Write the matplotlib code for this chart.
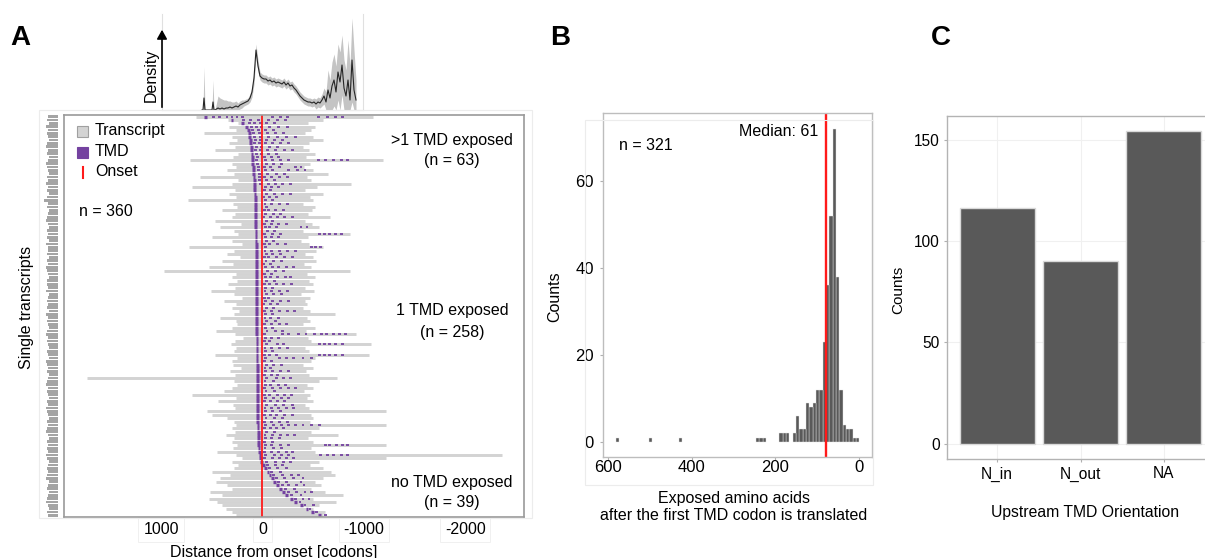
import matplotlib.pyplot as plt
from matplotlib.patches import Rectangle, FancyArrowPatch
from matplotlib.lines import Line2D
from matplotlib.transforms import Affine2D

plt.rcParams['font.family'] = ['Liberation Sans', 'DejaVu Sans']
plt.rcParams['axes.unicode_minus'] = False

# ---------------- panel A: single transcripts (rows top -> bottom, codons from onset)
tx_left = [660, 340, 240, 334, 260, 580, 300, 250, 330, 270,
           470, 240, 290, 715, 300, 260, 350, 280, 612, 240,
           300, 695, 270, 330, 260, 730, 290, 250, 400, 270,
           300, 465, 210, 420, 280, 240, 497, 300, 200, 726,
           280, 350, 220, 400, 290, 530, 972, 260, 300, 250,
           340, 270, 507, 280, 200, 380, 260, 300, 230, 280,
           420, 260, 250, 300, 456, 270, 190, 268, 310, 260,
           280, 470, 250, 300, 290, 210, 320, 270, 1730, 280,
           250, 300, 380, 693, 260, 440, 290, 270, 547, 500,
           350, 280, 260, 300, 270, 360, 280, 300, 250, 290,
           448, 260, 200, 300, 240, 280, 497, 320, 420, 460,
           350, 300, 514, 400, 530, 448, 400, 360, 300, 260]
tx_right = [-1088, -598, -450, -520, -480, -420, -500, -598, -460, -400,
            -455, -520, -430, -1190, -470, -410, -500, -650, -440, -480,
            -876, -540, -420, -598, -470, -500, -400, -520, -490, -450,
            -663, -420, -490, -560, -400, -859, -450, -380, -455, -600,
            -525, -420, -500, -530, -410, -480, -859, -440, -520, -460,
            -500, -420, -510, -380, -465, -420, -440, -400, -470, -713,
            -440, -470, -400, -520, -430, -925, -450, -480, -1072, -420,
            -460, -1056, -520, -480, -400, -500, -430, -460, -735, -560,
            -440, -500, -410, -470, -440, -500, -420, -460, -1219, -480,
            -500, -470, -1219, -560, -480, -745, -450, -500, -1219, -480,
            -520, -2364, -1215, -560, -470, -600, -680, -720, -600, -520,
            -580, -480, -620, -790, -500, -729, -560, -500, -620, -600]
first_tmd = [560, 300, 200, 160, 140, 130, 124, 119, 115, 111,
             107, 103, 100, 97, 94, 91, 88, 85, 83, 81,
             79, 77, 75, 73, 72, 71, 70, 69, 68, 67,
             66, 66, 65, 65, 64, 64, 63, 63, 62, 62,
             61, 61, 61, 60, 60, 60, 59, 59, 59, 59,
             58, 58, 58, 58, 57, 57, 57, 57, 56, 56,
             56, 56, 55, 55, 55, 55, 54, 54, 54, 54,
             53, 53, 53, 53, 52, 52, 52, 52, 51, 51,
             51, 51, 50, 50, 50, 49, 49, 48, 48, 47,
             46, 45, 44, 43, 42, 41, 40, 38, 36, 33,
             29, 24, 16, 6, -10, -30, -55, -75, -100, -122,
             -150, -178, -204, -240, -286, -330, -384, -440, -498, -560]
tmd_extra = [
    # rows 0-9
    [480, 420, 350, 300, 250, 200, -100, -180, -250, -550, -640, -720, -790],
    [190, 120, 40, -60, -150, -230], [130, 80, 20, -40, -120],
    [110, 60, 10, -70, -160, -250], [100, 40, -30, -110],
    [90, 30, -50, -130, -210], [80, 20, -60, -150, -240, -330],
    [70, 15, -40, -120, -200], [75, 25, -30, -100, -180, -260],
    [60, 10, -70, -150],
    # rows 10-19
    [65, 20, -50, -130, -220, -300], [55, 10, -60, -140], [50, -20, -90, -160],
    [55, -30, -100, -180, -260, -550, -620, -700, -780, -840],
    [45, -40, -110, -190], [40, -20, -80, -170, -330, -380],
    [35, -30, -100, -260, -350, -420], [30, -50, -140, -220],
    [30, -20, -90, -170, -250], [25, -40, -120],
    # rows 20-29
    [20, -60, -130, -200, -280], [-30, -90, -160], [-20, -80],
    [-40, -120, -200, -280], [-15, -70, -140], [-30, -100],
    [-25, -90, -170, -250], [-40], [-20, -60, -130, -210], [-30, -110, -180],
    # rows 30-39
    [-15, -80, -150, -220, -300], [-40, -100], [-20, -90, -160, -240],
    [-30, -70, -140, -380, -440], [-50, -120],
    [-20, -100, -180, -560, -610, -660, -720, -780], [-30, -90, -160],
    [-40, -110], [-20, -70, -150, -230], [-30, -480, -520, -570],
    # rows 40-49
    [-25, -90, -170, -250, -330], [-40, -100, -180], [-20, -60, -140, -220, -300],
    [-35, -110, -190], [-15, -80], [-30, -100, -160, -240, -310],
    [-50, -130, -210], [-20, -90], [-30, -80, -150, -230, -280], [-40, -120],
    # rows 50-59
    [-20, -70, -140, -210, -290], [-30, -100], [-25, -90, -170, -250],
    [-40, -110, -190], [-20, -60], [-30, -100, -180, -260], [-15, -80, -150],
    [-40, -110], [-20, -90, -170, -250, -320], [-30, -100],
    # rows 60-69
    [-25, -80, -160], [-40, -130], [-20, -90, -170, -240], [-30, -100],
    [-45, -130, -200],
    [-20, -200, -260, -360, -430, -510, -580, -630, -700, -760, -820],
    [-30, -90, -160], [-20, -70],
    [-40, -150, -210, -560, -610, -660, -720, -790], [-25, -90, -170, -250],
    # rows 70-79
    [-30, -100], [-20, -70, -140, -560, -610, -660, -720, -790],
    [-30, -170, -240, -310, -400, -480], [-20, -90], [-40, -110, -190],
    [-25, -80], [-30, -100, -180, -260], [-20, -90, -150],
    [-40, -140, -210, -280], [-25, -110],
    # rows 80-89
    [-30, -80, -160, -230], [-20, -100, -180, -260, -330], [-35, -120],
    [-20, -70, -150, -220, -290], [-30, -110, -190, -260], [-20, -80, -150, -220],
    [-40, -130, -210, -300], [-25, -90, -160, -240, -310], [-30, -100, -180],
    [-20, -80, -140, -220, -300],
    # rows 90-99
    [-35, -120, -200], [-20, -90, -170, -250],
    [-30, -110, -190, -260, -330, -400, -480, -560], [-20, -80, -140, -210],
    [-40, -120], [-25, -100, -180, -250, -320], [-30, -90, -170], [-20, -100],
    [-30, -90, -180, -260, -620, -660, -730, -790, -840], [-25, -110, -190],
    # rows 100-109
    [-20, -90, -160, -240, -300],
    [-30, -120, -190, -260, -570, -640, -700, -780, -840],
    [-20, -100, -170, -240, -310], [-40, -130, -210, -280], [-50, -130, -200],
    [-70, -150, -240], [-90, -180], [-110, -200, -290, -360],
    [-140, -220, -310, -400], [-160, -240, -380],
    # rows 110-119
    [-200, -260, -340, -410], [-230, -320], [-260, -340, -420, -480],
    [-290, -380], [-330, -400, -460], [-370], [-420, -500], [-470], [-530], [-620],
]
label_w = [9, 10, 8, 11, 9, 10, 9, 8, 10, 11, 9, 10, 8, 9, 11, 10, 9, 8, 10, 9,
           11, 9, 10, 8, 10, 13, 9, 10, 8, 9, 10, 11, 9, 8, 10, 9, 10, 8, 11, 9,
           9, 10, 8, 10, 9, 11, 10, 9, 8, 10, 10, 9, 11, 8, 9, 10, 9, 10, 8, 11,
           9, 10, 9, 8, 10, 11, 9, 10, 9, 8, 10, 9, 8, 11, 10, 9, 10, 8, 9, 10,
           11, 9, 10, 9, 8, 10, 9, 11, 10, 9, 8, 10, 9, 10, 11, 9, 8, 10, 9, 10,
           9, 11, 10, 8, 9, 10, 9, 10, 11, 8, 9, 10, 8, 9, 10, 11, 9, 8, 10, 9]
xticks_a = [1000, 0, -1000, -2000]
xticklabels_a = ['1000', '0', '-1000', '-2000']

# density track above panel A
dens_pos = [40, 41, 42, 43, 44, 49, 50, 51, 52, 53,
            56, 58, 60, 62, 64, 66, 68, 70, 72, 74,
            76, 78, 80, 82, 84, 86, 88, 90, 92, 94,
            96, 98, 100, 102, 104, 106, 108, 110, 112, 114,
            116, 118, 120, 122, 124, 126, 128, 130, 132, 134,
            136, 138, 140, 142, 144, 146, 148, 150, 152, 154,
            156, 158, 160, 162, 164, 166, 168, 170, 172, 174,
            176, 178, 180, 182, 184, 186, 188, 190, 192, 194]
dens_mean = [0, 0, 12, 0, 0, 0, 0, 8, 0, 0,
             2, 1, 2, 1, 2, 2, 3, 2, 3, 4,
             3, 5, 6, 7, 8, 9, 12, 18, 32, 60,
             44, 34, 32, 31, 31, 29, 30, 28, 29, 27,
             28, 27, 26, 28, 25, 27, 24, 25, 22, 20,
             17, 14, 12, 10, 9, 8, 8, 7, 8, 6,
             8, 7, 10, 14, 8, 20, 12, 24, 30, 18,
             38, 28, 45, 22, 14, 30, 10, 50, 20, 10]
dens_hi = [0, 0, 43, 0, 0, 0, 0, 30, 0, 0,
           14, 12, 11, 10, 10, 9, 9, 8, 8, 9,
           7, 9, 10, 10, 11, 12, 16, 23, 38, 66,
           50, 38, 36, 35, 35, 33, 34, 32, 33, 31,
           32, 31, 30, 32, 29, 31, 28, 29, 26, 24,
           21, 18, 16, 14, 13, 12, 12, 11, 12, 11,
           13, 12, 16, 22, 18, 40, 30, 48, 56, 44,
           66, 58, 75, 50, 40, 70, 45, 92, 60, 30]
dens_lo = [0, 0, 0, 0, 0, 0, 0, 0, 0, 0,
           0, 0, 0, 0, 0, 0, 0, 0, 0, 0,
           0, 1, 2, 4, 5, 6, 8, 13, 26, 54,
           38, 30, 28, 27, 27, 25, 26, 24, 25, 23,
           24, 23, 22, 24, 21, 23, 20, 21, 18, 16,
           13, 10, 8, 6, 5, 4, 4, 3, 4, 1,
           3, 2, 4, 6, 0, 0, 0, 0, 4, 0,
           10, 0, 15, 0, 0, 0, 0, 8, 0, 0]

# ---------------- panel B: histogram of exposed amino acids (bin width 8)
b_left = [-2, 6, 14, 22, 30, 38, 46, 54, 62, 70, 78, 86, 94, 102, 110,
          118, 126, 134, 142, 150, 166, 174, 182, 222, 230, 238, 422, 494, 574]
b_counts = [1, 1, 3, 3, 4, 12, 38, 72, 52, 36, 23, 12, 12, 9, 8,
            9, 3, 3, 6, 2, 2, 2, 2, 1, 1, 1, 1, 1, 1]
b_median_line = 78

# ---------------- panel C: upstream TMD orientation
c_cats = ['N_in', 'N_out', 'NA']
c_counts = [116, 90, 154]

PURPLE = '#7442a0'
W, H = 1205, 558
fig = plt.figure(figsize=(W / 100, H / 100), dpi=100)
px = Affine2D().scale(1 / W, -1 / H).translate(0, 1) + fig.transFigure


def rect(x0, y0, x1, y1):
    return [x0 / W, 1 - y1 / H, (x1 - x0) / W, (y1 - y0) / H]


def txt(x, y, s, size=11.5, **kw):
    kw.setdefault('ha', 'center')
    kw.setdefault('va', 'center')
    fig.text(x, y, s, fontsize=size, transform=px, **kw)


# faint panel backgrounds
fig.add_artist(Rectangle((39, 110), 493, 408, transform=px, fill=False, ec='#ececec', lw=0.8))
fig.add_artist(Rectangle((585, 120), 288, 365, transform=px, fill=False, ec='#ececec', lw=0.8))

# ---- panel A
axA = fig.add_axes(rect(64, 115, 524, 517))
rows = list(range(len(tx_left)))
axA.hlines(rows, tx_right, tx_left, color='#d3d3d3', lw=2.1)
half = 14
ex_rows = [r for r, ex in enumerate(tmd_extra) for _ in ex]
ex_pos = [p for ex in tmd_extra for p in ex]
axA.hlines(ex_rows, [p - half for p in ex_pos], [p + half for p in ex_pos], color=PURPLE, lw=1.3)
axA.hlines(rows, [p - half for p in first_tmd], [p + half for p in first_tmd], color=PURPLE, lw=2.4)
axA.axvline(0, color='#ff1a1a', lw=1.3)
axA.set_xlim(1957, -2580)
axA.set_ylim(len(rows) - 0.5, -0.5)
axA.set_yticks([])
axA.set_xticks(xticks_a)
axA.set_xticklabels(xticklabels_a)
axA.tick_params(axis='x', length=2, width=0.8, color='#808080', pad=1.8, labelsize=11.5)
for lab in axA.get_xticklabels():
    lab.set_bbox(dict(boxstyle='square,pad=0.3', fc='white', ec='#f0f0f0', lw=0.7))
for sp in axA.spines.values():
    sp.set_color('#9a9a9a')
    sp.set_linewidth(1.2)

# tiny per-transcript labels strip
axL = fig.add_axes(rect(44, 115, 58, 517))
axL.barh(rows, label_w, height=0.8, color='#a4a4a4')
axL.set_xlim(13, 0)
axL.set_ylim(len(rows) - 0.5, -0.5)
axL.axis('off')

# legend
fig.add_artist(Rectangle((77, 126), 11, 10.5, transform=px, fc='#d3d3d3', ec='#a0a0a0', lw=0.8))
fig.add_artist(Rectangle((77, 147), 11, 10.5, transform=px, fc=PURPLE, ec=PURPLE, lw=0.8))
fig.add_artist(Line2D([83, 83], [167, 177.5], transform=px, color='#ff1a1a', lw=1.5))
txt(95, 131, 'Transcript', ha='left')
txt(95, 152, 'TMD', ha='left')
txt(95, 172, 'Onset', ha='left')
txt(79, 211, 'n = 360', ha='left')
txt(452, 140, '>1 TMD exposed')
txt(452, 161, '(n = 63)')
txt(452, 311, '1 TMD exposed')
txt(452, 332, '(n = 258)')
txt(452, 482, 'no TMD exposed')
txt(452, 502, '(n = 39)')
txt(27, 307, 'Single transcripts', rotation=90)
txt(274, 552, 'Distance from onset [codons]')

# density track
axD = fig.add_axes(rect(162, 14, 363, 110))
axD.fill_between(dens_pos, dens_lo, dens_hi, color='#c4c4c4', lw=0)
axD.plot(dens_pos, dens_mean, color='#262626', lw=0.8)
axD.set_xlim(0, 201)
axD.set_ylim(0, 96)
axD.set_xticks([])
axD.set_yticks([])
axD.spines['top'].set_visible(False)
axD.spines['left'].set_color('#e0e0e0')
axD.spines['right'].set_color('#e0e0e0')
axD.spines['bottom'].set_color('#c8c8c8')
fig.add_artist(FancyArrowPatch((162, 110), (162, 27), transform=px,
                               arrowstyle='-|>,head_length=0.45,head_width=0.25',
                               mutation_scale=12, lw=1.2, color='black'))
txt(151, 75, 'Density', rotation=90)

# ---- panel B
axB = fig.add_axes(rect(603, 113, 872, 457))
axB.bar(b_left, b_counts, width=8, align='edge', color='#595959', edgecolor='#e6e6e6', lw=0.3)
axB.axvline(b_median_line, color='#ff1a1a', lw=1.7)
axB.set_xlim(612, -32)
axB.set_ylim(-3.45, 75.6)
axB.set_xticks([600, 400, 200, 0])
axB.set_yticks([0, 20, 40, 60])
axB.tick_params(axis='x', length=2, width=0.8, color='#b0b0b0', pad=0.5, labelsize=12)
axB.tick_params(axis='y', length=2, width=0.8, color='#b0b0b0', pad=4.7, labelsize=12)
for sp in axB.spines.values():
    sp.set_color('#bdbdbd')
    sp.set_linewidth(1.0)
txt(619, 145, 'n = 321', ha='left')
txt(818, 132, 'Median: 61', ha='right')
txt(555, 297, 'Counts', rotation=90)
txt(734, 507, 'Exposed amino acids\nafter the first TMD codon is translated',
    multialignment='center', linespacing=1.15)

# ---- panel C
axC = fig.add_axes(rect(947, 116, 1214, 459))
axC.bar(range(1, len(c_cats) + 1), c_counts, width=0.9, color='#595959',
        edgecolor='#d9d9d9', lw=1.0, zorder=2)
axC.set_xlim(0.4, 3.6)
axC.set_ylim(-7.5, 161.6)
axC.set_xticks(range(1, len(c_cats) + 1))
axC.set_xticklabels(c_cats)
axC.set_yticks([0, 50, 100, 150])
axC.grid(color='#f0f0f0', lw=0.8, zorder=0)
axC.set_axisbelow(True)
axC.tick_params(axis='x', length=2, width=0.8, color='#b0b0b0', pad=3.3, labelsize=11.2)
axC.tick_params(axis='y', length=2, width=0.8, color='#b0b0b0', pad=3.2, labelsize=11.2)
for sp in axC.spines.values():
    sp.set_color('#b3b3b3')
    sp.set_linewidth(1.0)
txt(898, 290, 'Counts', size=11, rotation=90)
txt(1085, 513, 'Upstream TMD Orientation', size=11.3)

# panel letters
txt(20, 38, 'A', size=20, fontweight='bold')
txt(560, 38, 'B', size=20, fontweight='bold')
txt(941, 38, 'C', size=20, fontweight='bold')

fig.savefig('out.png', dpi=100)
